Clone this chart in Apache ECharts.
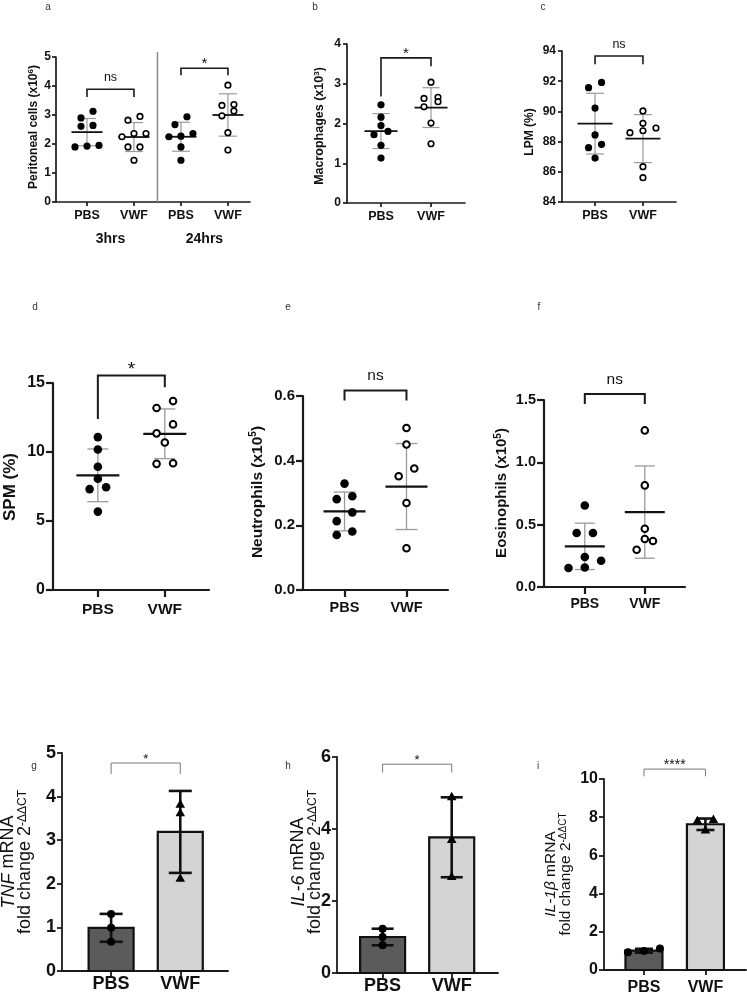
<!DOCTYPE html>
<html><head><meta charset="utf-8">
<script src="https://cdn.jsdelivr.net/npm/echarts@6/dist/echarts.min.js"></script>
<style>html,body{margin:0;padding:0;background:#fff}#c{width:747px;height:999px}</style>
</head><body><div id="c"></div>
<script>
// ================= DATA =================
const cats2 = ['PBS', 'VWF'];
// a: Peritoneal cells (x10^6)
const aCats = ['PBS', 'VWF', 'PBS', 'VWF'];
const aTimes = ['3hrs', '24hrs'];
const aPBS3h = [3.13, 2.90, 2.61, 2.64, 1.90, 1.95, 1.93];
const aVWF3h = [2.95, 2.82, 2.36, 2.36, 2.25, 1.90, 1.90, 1.44];
const aPBS24h = [2.94, 2.67, 2.36, 2.27, 2.25, 1.90, 1.44];
const aVWF24h = [4.03, 3.36, 3.33, 3.14, 2.97, 2.39, 1.79];
const aMean = [2.41, 2.24, 2.25, 3.00];
const aSD = [0.47, 0.50, 0.50, 0.73];
const aSig = ['ns', '*'];
const aBrackets = [[1, 2, 3.89, 3.62, 3.62], [3, 4, 4.61, 4.37, 4.37]];
// b: Macrophages (x10^3)
const bPBS = [2.47, 2.16, 1.95, 1.80, 1.72, 1.45, 1.13];
const bVWF = [3.04, 2.66, 2.63, 2.55, 2.42, 2.01, 1.49];
const bMean = [1.81, 2.40];
const bSD = [0.44, 0.50];
const bSig = ['*'];
const bBrackets = [[1, 2, 3.65, 2.68, 3.44]];
// c: LPM (%)
const cPBS = [91.92, 91.57, 90.22, 88.44, 87.82, 87.60, 86.91];
const cVWF = [90.03, 89.21, 88.90, 88.72, 88.59, 86.34, 85.61];
const cMean = [89.19, 88.20];
const cSD = [2.01, 1.59];
const cSig = ['ns'];
const cBrackets = [[1, 2, 93.67, 93.12, 93.12]];
// d: SPM (%)
const dPBS = [11.08, 10.18, 8.93, 8.06, 7.45, 7.31, 5.68];
const dVWF = [13.69, 13.19, 12.00, 11.35, 10.69, 9.19, 9.14];
const dMean = [8.31, 11.32];
const dSD = [1.91, 1.80];
const dSig = ['*'];
const dBrackets = [[1, 2, 15.55, 12.39, 14.70]];
// e: Neutrophils (x10^5)
const ePBS = [0.329, 0.290, 0.281, 0.240, 0.213, 0.181, 0.170];
const eVWF = [0.501, 0.450, 0.376, 0.352, 0.269, 0.129];
const eMean = [0.243, 0.320];
const eSD = [0.060, 0.133];
const eSig = ['ns'];
const eBrackets = [[1, 2, 0.617, 0.586, 0.586]];
// f: Eosinophils (x10^5)
const fPBS = [0.654, 0.433, 0.433, 0.241, 0.211, 0.157, 0.152];
const fVWF = [1.256, 0.815, 0.467, 0.385, 0.369, 0.299];
const fMean = [0.326, 0.601];
const fSD = [0.186, 0.370];
const fSig = ['ns'];
const fBrackets = [[1, 2, 1.548, 1.468, 1.468]];
// g: TNF mRNA fold change
const gPBS = [1.31, 0.99, 0.67];
const gVWF = [3.82, 3.62, 2.12];
const gMean = [0.99, 3.19];
const gSD = [0.32, 0.94];
const gSig = ['*'];
const gBrackets = [[1, 2, 4.77, 4.52, 4.52]];
// h: IL-6 mRNA fold change
const hPBS = [1.23, 1.00, 0.77];
const hVWF = [4.89, 3.70, 2.67];
const hMean = [1.00, 3.77];
const hSD = [0.23, 1.11];
const hSig = ['*'];
const hBrackets = [[1, 2, 5.80, 5.57, 5.57]];
// i: IL-1beta mRNA fold change
const iPBS = [0.93, 1.12, 1.00];
const iVWF = [7.87, 7.81, 7.31];
const iMean = [1.01, 7.63];
const iSD = [0.10, 0.30];
const iSig = ['****'];
const iBrackets = [[1, 2, 10.52, 10.14, 10.14]];

// ================= STYLE / LAYOUT =================
const FONT = 'Arial, "Liberation Sans", Helvetica, sans-serif';
const STY = {
  top: {axisW: 1.7, tickLen: 4, tickFont: 12, tickMargin: 6, catFont: 12.5, catMargin: 7, r: 3.6, lw: 1.6, thr: 8,
        meanLW: 1.8, sdLW: 1.2, brLW: 1.6, brColor: '#1a1a1a', nsFont: 12.5, starFont: 15},
  mid: {axisW: 2.2, tickLen: 7, tickFont: 15, tickMargin: 8, catFont: 15, catMargin: 11, r: 4.3, lw: 2, thr: 9,
        meanLW: 2.3, sdLW: 1.3, brLW: 2, brColor: '#1a1a1a', nsFont: 15.5, starFont: 19},
  bot: {axisW: 1.8, tickLen: 5, tickFont: 18, tickMargin: 6, catFont: 18, catMargin: 4, r: 4, lw: 0, thr: 8,
        barLW: 2.2, errLW: 2.6, brLW: 1, brColor: '#777', nsFont: 13, starFont: 13, barFill: ['#5b5b5b', '#d4d4d4']}
};

const panels = [
  {box: [56, 57, 194, 145], xr: [0.34, 4.47], cats: aCats, y: [0, 5, 1, 0], kind: 'dot', sty: 'top',
   ov: {tickMargin: 5}, groups: [[aPBS3h, 'filled'], [aVWF3h, 'open'], [aPBS24h, 'filled'], [aVWF24h, 'open']],
   mean: aMean, sd: aSD, brackets: aBrackets, sig: aSig, slot: 12, meanW: 31, capW: 18, times: aTimes},
  {box: [347, 44, 118, 159], xr: [0.32, 2.68], cats: cats2, y: [0, 4, 1, 0], kind: 'dot', sty: 'top',
   groups: [[bPBS, 'filled'], [bVWF, 'open']], mean: bMean, sd: bSD, brackets: bBrackets, sig: bSig,
   slot: 14, meanW: 33, capW: 17},
  {box: [562, 51, 114, 151], xr: [0.31, 2.69], cats: cats2, y: [84, 94, 2, 0], kind: 'dot', sty: 'top',
   groups: [[cPBS, 'filled'], [cVWF, 'open']], mean: cMean, sd: cSD, brackets: cBrackets, sig: cSig,
   slot: 13, meanW: 35, capW: 18},
  {box: [53, 383, 156, 207], xr: [0.33, 2.66], cats: cats2, y: [0, 15, 5, 0], kind: 'dot', sty: 'mid',
   ov: {tickFont: 16, catFont: 15.5, catMargin: 12}, groups: [[dPBS, 'filled'], [dVWF, 'open']],
   mean: dMean, sd: dSD, brackets: dBrackets, sig: dSig, slot: 16.5, meanW: 43, capW: 21},
  {box: [303, 396, 145, 194], xr: [0.33, 2.67], cats: cats2, y: [0, 0.6, 0.2, 1], kind: 'dot', sty: 'mid',
   ov: {catFont: 14.5, catMargin: 10}, groups: [[ePBS, 'filled'], [eVWF, 'open']],
   mean: eMean, sd: eSD, brackets: eBrackets, sig: eSig, slot: 15.6, meanW: 42, capW: 22},
  {box: [544, 400, 141, 187], xr: [0.32, 2.67], cats: cats2, y: [0, 1.5, 0.5, 1], kind: 'dot', sty: 'mid',
   ov: {catFont: 14, catMargin: 10, tickFont: 14.5}, groups: [[fPBS, 'filled'], [fVWF, 'open']],
   mean: fMean, sd: fSD, brackets: fBrackets, sig: fSig, slot: 16.3, meanW: 40, capW: 20},
  {box: [62, 753, 166, 218], xr: [0.29, 2.69], cats: cats2, y: [0, 5, 1, 0], kind: 'bar', sty: 'bot',
   groups: [[gPBS, 'filled'], [gVWF, 'tri']], mean: gMean, sd: gSD, brackets: gBrackets, sig: gSig,
   slot: 16, barW: 45, capW: 23},
  {box: [337, 757, 161, 216], xr: [0.34, 2.67], cats: cats2, y: [0, 6, 2, 0], kind: 'bar', sty: 'bot',
   groups: [[hPBS, 'filled'], [hVWF, 'tri']], mean: hMean, sd: hSD, brackets: hBrackets, sig: hSig,
   slot: 16, barW: 45, capW: 22},
  {box: [604, 779, 142, 191], xr: [0.35, 2.66], cats: cats2, y: [0, 10, 2, 0], kind: 'bar', sty: 'bot',
   ov: {tickFont: 16, catFont: 16, catMargin: 10, starFont: 14}, groups: [[iPBS, 'filled'], [iVWF, 'tri']],
   mean: iMean, sd: iSD, brackets: iBrackets, sig: iSig, slot: 16, barW: 37, capW: 18}
];

const letters = [['a', 48, 7], ['b', 315, 7], ['c', 543, 7], ['d', 35, 307], ['e', 288, 307], ['f', 539, 307],
                 ['g', 34, 766], ['h', 288, 766], ['i', 538, 766]];

function rich(F, weight, lh) {
  const base = {fontSize: F, fontWeight: weight, fontFamily: FONT, fill: '#111', color: '#111', lineHeight: lh};
  return {
    b: base,
    i: Object.assign({}, base, {fontStyle: 'italic'}),
    s: Object.assign({}, base, {fontSize: Math.round(F * 0.66), lineHeight: Math.max(2, lh - 0.72 * F), verticalAlign: 'top'})
  };
}
const titles = [
  {x: 34, y: 127, text: '{b|Peritoneal cells (x10}{s|6}{b|)}', rich: rich(12, 'bold', 15)},
  {x: 320, y: 126, text: '{b|Macrophages (x10}{s|3}{b|)}', rich: rich(12.5, 'bold', 15)},
  {x: 530, y: 132, text: '{b|LPM (%)}', rich: rich(12, 'bold', 15)},
  {x: 10, y: 487, text: '{b|SPM (%)}', rich: rich(17, 'bold', 20)},
  {x: 258, y: 492, text: '{b|Neutrophils (x10}{s|5}{b|)}', rich: rich(15.5, 'bold', 19)},
  {x: 502, y: 493, text: '{b|Eosinophils (x10}{s|5}{b|)}', rich: rich(15, 'bold', 18)},
  {x: 17, y: 862, text: '{i|TNF}{b| mRNA}\n{b|fold change 2}{s|-ΔΔCT}', rich: rich(18, 'normal', 17)},
  {x: 307, y: 862, text: '{i|IL-6}{b| mRNA}\n{b|fold change 2}{s|-ΔΔCT}', rich: rich(18, 'normal', 17)},
  {x: 558, y: 874, text: '{i|IL-1β}{b| mRNA}\n{b|fold change 2}{s|-ΔΔCT}', rich: rich(15.5, 'normal', 15)}
];

// ================= HELPERS =================
function swarmOffsets(pys, thr, slot) {
  const order = pys.map((_, i) => i).sort((a, b) => (pys[b] - pys[a]) || (a - b));
  const off = pys.map(() => 0);
  let row = [];
  const flush = () => { row.forEach((k, j) => { off[k] = (j - (row.length - 1) / 2) * slot; }); row = []; };
  order.forEach(k => { if (row.length && Math.abs(pys[k] - pys[row[0]]) >= thr) flush(); row.push(k); });
  flush();
  return off;
}
function marker(kind, cx, cy, r, lw) {
  if (kind === 'open') return {type: 'circle', shape: {cx: cx, cy: cy, r: r - lw / 2}, style: {fill: '#fff', stroke: '#000', lineWidth: lw}};
  if (kind === 'tri') return {type: 'polygon', shape: {points: [[cx, cy - r * 1.3], [cx + r * 1.2, cy + r * 0.8], [cx - r * 1.2, cy + r * 0.8]]}, style: {fill: '#000'}};
  return {type: 'circle', shape: {cx: cx, cy: cy, r: r}, style: {fill: '#000'}};
}
function txt(text, x, y, F, weight, extra) {
  return Object.assign({type: 'text', style: {text: text, x: x, y: y, fontSize: F, fontWeight: weight, fontFamily: FONT,
    fill: '#111', align: 'center', verticalAlign: 'middle', textAlign: 'center', textVerticalAlign: 'middle'}}, extra || {});
}

// ================= BUILD OPTION =================
const option = {animation: false, backgroundColor: '#fff', grid: [], xAxis: [], yAxis: [], series: [], graphic: []};

panels.forEach((p, gi) => {
  const s = Object.assign({}, STY[p.sty], p.ov || {});
  const axisStyle = {color: '#1a1a1a', width: s.axisW};
  const pos = p.cats.map((_, i) => i + 1);
  option.grid.push({left: p.box[0], top: p.box[1], width: p.box[2], height: p.box[3], containLabel: false, outerBoundsMode: 'none'});
  option.xAxis.push({type: 'value', gridIndex: gi, min: p.xr[0], max: p.xr[1],
    axisLine: {show: true, onZero: false, lineStyle: axisStyle},
    axisTick: {show: true, customValues: pos, length: s.tickLen, lineStyle: axisStyle},
    axisLabel: {show: true, customValues: pos, margin: s.catMargin, formatter: v => p.cats[Math.round(v) - 1] || '',
      color: '#111', fontFamily: FONT, fontWeight: 'bold', fontSize: s.catFont},
    splitLine: {show: false}});
  option.yAxis.push({type: 'value', gridIndex: gi, min: p.y[0], max: p.y[1], interval: p.y[2],
    axisLine: {show: true, onZero: false, lineStyle: axisStyle},
    axisTick: {show: true, length: s.tickLen, lineStyle: axisStyle},
    axisLabel: {margin: s.tickMargin, formatter: v => Number(v).toFixed(p.y[3]), color: '#111', fontFamily: FONT, fontWeight: 'bold', fontSize: s.tickFont},
    splitLine: {show: false}});

  const common = {type: 'custom', xAxisIndex: gi, yAxisIndex: gi, clip: false, silent: true};

  if (p.kind === 'dot') {
    option.series.push(Object.assign({}, common, {z: 2,
      data: p.mean.map((m, i) => [i + 1, m, p.sd[i]]),
      renderItem: (params, api) => {
        const x = api.value(0), m = api.value(1), sd = api.value(2);
        const c = api.coord([x, m]), t = api.coord([x, m + sd]), b = api.coord([x, m - sd]);
        const gs = {stroke: '#9a9a9a', lineWidth: s.sdLW};
        return {type: 'group', children: [
          {type: 'line', shape: {x1: c[0], y1: t[1], x2: c[0], y2: b[1]}, style: gs},
          {type: 'line', shape: {x1: c[0] - p.capW / 2, y1: t[1], x2: c[0] + p.capW / 2, y2: t[1]}, style: gs},
          {type: 'line', shape: {x1: c[0] - p.capW / 2, y1: b[1], x2: c[0] + p.capW / 2, y2: b[1]}, style: gs},
          {type: 'line', shape: {x1: c[0] - p.meanW / 2, y1: c[1], x2: c[0] + p.meanW / 2, y2: c[1]}, style: {stroke: '#111', lineWidth: s.meanLW}}
        ]};
      }}));
  } else {
    option.series.push(Object.assign({}, common, {z: 1,
      data: p.mean.map((m, i) => [i + 1, m]),
      renderItem: (params, api) => {
        const x = api.value(0), m = api.value(1);
        const b = api.coord([x, 0]), t = api.coord([x, m]);
        return {type: 'rect', shape: {x: b[0] - p.barW / 2, y: t[1], width: p.barW, height: b[1] - t[1]},
          style: {fill: s.barFill[params.dataIndex], stroke: '#111', lineWidth: s.barLW}};
      }}));
    option.series.push(Object.assign({}, common, {z: 3,
      data: p.mean.map((m, i) => [i + 1, m, p.sd[i]]),
      renderItem: (params, api) => {
        const x = api.value(0), m = api.value(1), sd = api.value(2);
        const t = api.coord([x, m + sd]), b = api.coord([x, m - sd]);
        const ks = {stroke: '#111', lineWidth: s.errLW};
        return {type: 'group', children: [
          {type: 'line', shape: {x1: t[0], y1: t[1], x2: t[0], y2: b[1]}, style: ks},
          {type: 'line', shape: {x1: t[0] - p.capW / 2, y1: t[1], x2: t[0] + p.capW / 2, y2: t[1]}, style: ks},
          {type: 'line', shape: {x1: t[0] - p.capW / 2, y1: b[1], x2: t[0] + p.capW / 2, y2: b[1]}, style: ks}
        ]};
      }}));
  }

  // individual points (beeswarm spread computed in pixel space)
  p.groups.forEach((g, k) => {
    const vals = g[0], kind = g[1];
    option.series.push(Object.assign({}, common, {z: 4,
      data: vals.map(v => [k + 1, v]),
      renderItem: (params, api) => {
        const xv = api.value(0);
        const pys = vals.map(v => api.coord([xv, v])[1]);
        const off = swarmOffsets(pys, s.thr, p.slot);
        const c = api.coord([xv, api.value(1)]);
        return marker(kind, c[0] + off[params.dataIndex], c[1], s.r, s.lw);
      }}));
  });

  // significance brackets
  option.series.push(Object.assign({}, common, {z: 5,
    data: p.brackets,
    renderItem: (params, api) => {
      const x1 = api.value(0), x2 = api.value(1), top = api.value(2);
      const a = api.coord([x1, api.value(3)]), b = api.coord([x1, top]), c = api.coord([x2, top]), d = api.coord([x2, api.value(4)]);
      const label = p.sig[params.dataIndex];
      const F = label === 'ns' ? s.nsFont : s.starFont;
      const gap = label === 'ns' ? 0.95 * F : 0.28 * F;
      return {type: 'group', children: [
        {type: 'polyline', shape: {points: [a, b, c, d]}, style: {stroke: s.brColor, lineWidth: s.brLW, fill: 'none'}},
        txt(label, (b[0] + c[0]) / 2, b[1] - gap, F, 'normal')
      ]};
    }}));

  // panel a: time-group separator and group labels
  if (p.times) {
    option.series.push(Object.assign({}, common, {z: 1,
      data: [[(2 + 3) / 2]],
      renderItem: (params, api) => {
        const x = api.value(0);
        const b = api.coord([x, p.y[0]]), t = api.coord([x, p.y[1] + 0.035 * (p.y[1] - p.y[0])]);
        return {type: 'line', shape: {x1: b[0], y1: b[1], x2: t[0], y2: t[1]}, style: {stroke: '#8a8a8a', lineWidth: 1.5}};
      }}));
    option.series.push(Object.assign({}, common, {z: 1,
      data: p.times.map((_, i) => [(2 * i + 1 + 2 * i + 2) / 2]),
      renderItem: (params, api) => {
        const c = api.coord([api.value(0), p.y[0]]);
        return txt(p.times[params.dataIndex], c[0], c[1] + 37, 14, 'bold');
      }}));
  }
});

letters.forEach(l => option.graphic.push({type: 'text', x: l[1], y: l[2], silent: true,
  style: {text: l[0], fontSize: 10, fontFamily: FONT, fill: '#333', align: 'center', verticalAlign: 'middle', textAlign: 'center', textVerticalAlign: 'middle'}}));
titles.forEach(t => option.graphic.push({type: 'text', x: t.x, y: t.y, rotation: Math.PI / 2, silent: true,
  style: {text: t.text, rich: t.rich, fontFamily: FONT, fill: '#111', align: 'center', verticalAlign: 'middle', textAlign: 'center', textVerticalAlign: 'middle'}}));

const chart = echarts.init(document.getElementById('c'), null, {renderer: 'canvas', width: 747, height: 999});
chart.setOption(option);
</script>
</body></html>
